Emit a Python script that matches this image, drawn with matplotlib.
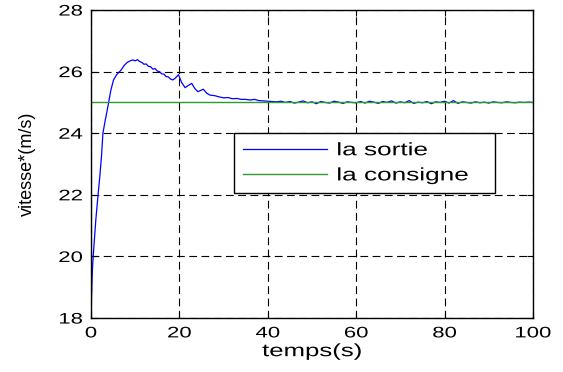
import matplotlib
matplotlib.use("Agg")
import matplotlib.pyplot as plt
from matplotlib.patheffects import AbstractPathEffect
from matplotlib.transforms import Affine2D

plt.rcParams['font.family'] = ['Liberation Sans', 'DejaVu Sans']

# vitesse de sortie (m/s) en fonction du temps (s)
temps = [0, 0.15, 0.3, 0.5, 0.8, 1.1, 1.6, 2.0, 2.4, 2.7, 3.2, 3.6, 4.0, 4.5,
         5.1, 5.8, 6.8, 7.5, 8.2, 9.0, 9.5, 10.0, 10.5, 11.0, 11.5, 12.0, 12.5,
         13.0, 13.5, 14.0, 14.5, 15.0, 15.5, 16.0, 16.5, 17.0, 17.5, 18.0, 18.5,
         19.0, 19.8, 20.5, 21.3, 22.0, 22.8, 23.5, 24.2, 25.4, 26.2, 26.9, 28,
         29, 30, 31, 32, 33, 34, 35, 36, 37, 38, 39, 40,
         41, 42, 43, 44, 45, 46, 47, 48, 49, 50, 51, 52, 53, 54, 55, 56, 57,
         58, 59, 60, 61, 62, 63, 64, 65, 66, 67, 68, 69, 70, 71, 72, 73, 74,
         75, 76, 77, 78, 79, 80, 81, 82, 83, 84, 85, 86, 87, 88, 89, 90, 91,
         92, 93, 94, 95, 96, 97, 98, 99, 100]
sortie = [18.0, 18.8, 19.5, 20.0, 20.6, 21.2, 22.0, 22.6, 23.3, 24.0, 24.4, 24.7,
          25.0, 25.4, 25.73, 25.9, 26.05, 26.2, 26.3, 26.36, 26.38, 26.35, 26.39,
          26.33, 26.3, 26.24, 26.25, 26.17, 26.16, 26.08, 26.1, 26.02, 26.0,
          25.93, 25.92, 25.84, 25.83, 25.76, 25.73, 25.78, 25.9, 25.65, 25.48,
          25.55, 25.62, 25.45, 25.35, 25.43, 25.3, 25.24, 25.22, 25.18, 25.15,
          25.16, 25.12, 25.13, 25.1, 25.1, 25.08, 25.1, 25.06, 25.05, 25.04,
          25.03, 25.02, 25.04, 25.0, 25.03, 24.98, 25.01, 25.05, 24.99, 25.02,
          24.96, 25.03, 25.0, 24.98, 25.04, 25.01, 24.97, 25.02, 25.0, 24.99,
          25.03, 24.98, 25.04, 25.01, 24.97, 25.03, 25.0, 25.05, 24.98, 25.02,
          24.99, 25.06, 24.97, 25.01, 24.99, 25.03, 24.96, 25.02, 25.0, 25.04,
          24.98, 25.06, 24.97, 25.02, 25.0, 24.98, 25.02, 24.99, 25.01, 24.98,
          25.02, 25.0, 24.99, 25.02, 25.0, 24.99, 25.01, 25.0, 25.01, 25.0]

consigne_t = [0, 100]
consigne = [25, 25]


# the original figure was resized horizontally, so its text looks wide
class StretchX(AbstractPathEffect):
    def __init__(self, sx=1.45, anchor='center'):
        super().__init__()
        self.sx = sx
        self.anchor = anchor

    def draw_path(self, renderer, gc, tpath, affine, rgbFace=None):
        ext = tpath.get_extents(affine)
        if self.anchor == 'right':
            x0 = ext.x1
        elif self.anchor == 'left':
            x0 = ext.x0
        else:
            x0 = 0.5 * (ext.x0 + ext.x1)
        tr = affine + Affine2D().translate(-x0, 0).scale(self.sx, 1).translate(x0, 0)
        renderer.draw_path(gc, tpath, tr, rgbFace)


fig = plt.figure(figsize=(5.63, 3.72), dpi=100)
ax = fig.add_axes([0.1616, 0.145, 0.7851, 0.828])

ax.plot(temps, sortie, color='#0000ff', linewidth=0.9, label='la sortie')
ax.plot(consigne_t, consigne, color='#2f9a2f', linewidth=1.0, label='la consigne')

ax.set_xlim(0, 100)
ax.set_ylim(18, 28)
ax.set_xticks([0, 20, 40, 60, 80, 100])
ax.set_yticks([18, 20, 22, 24, 26, 28])
ax.tick_params(direction='in', top=True, right=True, labelsize=11, length=4, pad=6)
ax.grid(True, color='black', linestyle=(0, (7, 4)), linewidth=0.8)
for s in ax.spines.values():
    s.set_linewidth(1.0)

for lab in ax.get_xticklabels():
    lab.set_path_effects([StretchX(1.45, 'center')])
for lab in ax.get_yticklabels():
    lab.set_path_effects([StretchX(1.45, 'right')])

ax.set_xlabel('temps(s)', fontsize=12.8, labelpad=2,
              path_effects=[StretchX(1.45, 'center')])
ax.set_ylabel('vitesse*(m/s)', fontsize=13)
ax.yaxis.set_label_coords(-0.125, 0.5)

leg = ax.legend(loc='upper left', bbox_to_anchor=(0.3235, 0.409, 0.5905, 0.191),
                mode='expand', fontsize=13, handlelength=4.65, handletextpad=0.55,
                fancybox=False, framealpha=1, edgecolor='black', borderaxespad=0,
                labelspacing=0.45, borderpad=0.5)
leg.get_frame().set_linewidth(1.0)
for t in leg.get_texts():
    t.set_path_effects([StretchX(1.45, 'left')])

fig.savefig('out.png', dpi=100)
